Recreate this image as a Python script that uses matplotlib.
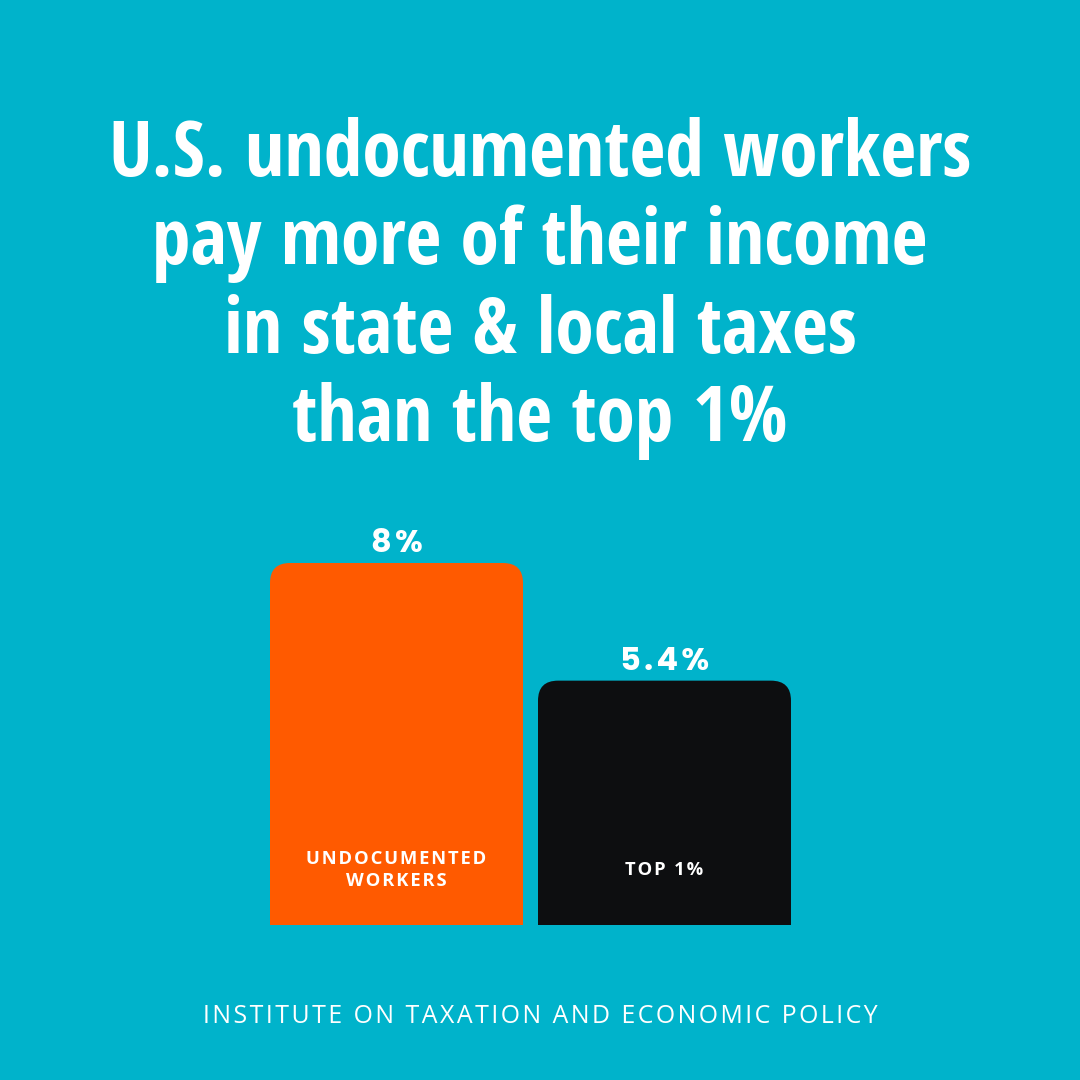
import matplotlib
matplotlib.use("Agg")
import matplotlib.pyplot as plt
from matplotlib.patches import FancyBboxPatch, Rectangle

# data
categories = ["UNDOCUMENTED\nWORKERS", "TOP 1%"]
values = [8.0, 5.4]
value_labels = ["8%", "5.4%"]
title_lines = ["U.S. undocumented workers", "pay more of their income",
               "in state & local taxes", "than the top 1%"]
source = "INSTITUTE ON TAXATION AND ECONOMIC POLICY"

colors = ["#FF5A00", "#0D0E10"]
bg = "#00B3CB"
HAIR = "\u200a"


def spaced(s, sp=HAIR):
    # poor man's letter spacing
    return "\n".join(sp.join(line) for line in s.split("\n"))


fig = plt.figure(figsize=(10.8, 10.8), dpi=100)
fig.patch.set_facecolor(bg)

# title, one line at a time so baselines sit where they should
for i, line in enumerate(title_lines):
    y = 176 + i * 88.5
    fig.text(0.5, 1 - y / 1080, line, ha="center", va="baseline", color="white",
             fontsize=56, fontweight="bold", family="Open Sans Condensed")

# bars: baseline at 925 px from the top, 268 px between bar centres
ax = fig.add_axes([0, 155 / 1080, 1, 925 / 1080])
ax.set_facecolor("none")
ppu_x = 268.0
ppu_y = 362.0 / 8
ax.set_xlim(-396.5 / ppu_x, (1080 - 396.5) / ppu_x)
ax.set_ylim(0, 925 / ppu_y)
ax.axis("off")

width = 253 / ppu_x
r = 20
bars = ax.bar(range(len(values)), values, width=width, color=colors)
for b, c in zip(bars, colors):
    b.set_visible(False)
    x0, h = b.get_x(), b.get_height()
    # rounded top corners only
    ax.add_patch(FancyBboxPatch((x0, 0), width, h,
                                boxstyle=f"round,pad=0,rounding_size={r / ppu_x}",
                                mutation_aspect=ppu_x / ppu_y, fc=c, ec="none"))
    ax.add_patch(Rectangle((x0, 0), width, h / 2, fc=c, ec="none"))

for i, (v, lab) in enumerate(zip(values, value_labels)):
    ax.annotate(spaced(lab), (i, v), xytext=(0, 11), textcoords="offset pixels",
                ha="center", va="baseline", color="white", fontsize=23,
                fontweight="bold", family=["Poppins", "DejaVu Sans"])
    ax.text(i, 55 / ppu_y, spaced(categories[i]), ha="center", va="center",
            color="white", fontsize=13.2, fontweight="bold",
            family=["Open Sans", "DejaVu Sans"], linespacing=1.3)

fig.text(0.5, 1 - 1023 / 1080, spaced(source), ha="center", va="baseline",
         color="white", fontsize=17.9, family=["Open Sans", "DejaVu Sans"])

fig.savefig("out.png", dpi=100, facecolor=bg)
